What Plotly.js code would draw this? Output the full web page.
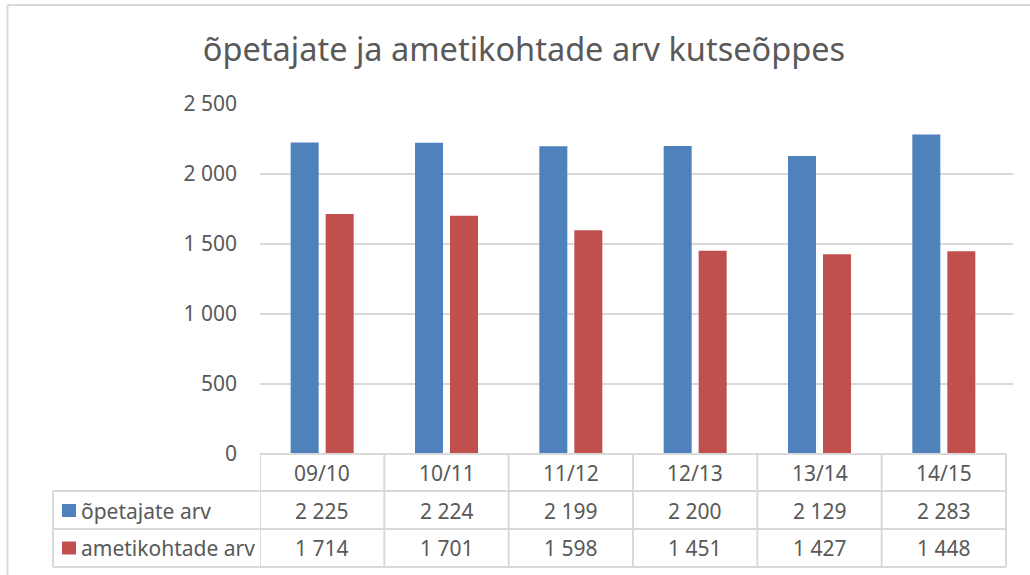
<!DOCTYPE html>
<html>
<head>
<meta charset="utf-8">
<script src="https://cdn.plot.ly/plotly-3.0.1.min.js"></script>
<style>
html,body{margin:0;padding:0;background:#fff;}
#chart{width:1030px;height:575px;}
</style>
</head>
<body>
<div id="chart"></div>
<script>
// ---- data ----
var categories = ["09/10", "10/11", "11/12", "12/13", "13/14", "14/15"];
var seriesNames = ["õpetajate arv", "ametikohtade arv"];
var opetajateArv = [2225, 2224, 2199, 2200, 2129, 2283];
var ametikohtadeArv = [1714, 1701, 1598, 1451, 1427, 1448];
var yTickValues = [0, 500, 1000, 1500, 2000, 2500];
var chartTitle = "õpetajate ja ametikohtade arv kutseõppes";

// ---- styling / layout constants ----
var W = 1030, H = 575;
var L = 260, R = 17, T = 104, B = 121;
var plotW = W - L - R, plotH = H - T - B;
var colors = ["#4F81BD", "#C0504D"];
var grey = "#595959";
var lineCol = "#D9D9D9";
var FONT = "Noto Sans, Open Sans, sans-serif";

function px2x(px) { return (px - L) / plotW; }
function px2y(py) { return (H - B - py) / plotH; }
function fmt(v) { return String(v).replace(/\B(?=(\d{3})+(?!\d))/g, " "); }

var seriesValues = [opetajateArv, ametikohtadeArv];
var traces = seriesValues.map(function (vals, i) {
  return {
    type: "bar",
    name: seriesNames[i],
    x: categories,
    y: vals,
    marker: { color: colors[i] },
    hoverinfo: "x+y+name"
  };
});

// table geometry (pixels)
var rowLines = [491, 529, 567];
var rowCenters = [473, 510.5, 548];
var labelLeft = 53;

var shapes = [];
var annotations = [];

// outer chart border (left + top)
shapes.push({ type: "line", xref: "paper", yref: "paper",
  x0: px2x(7.5), x1: px2x(1035), y0: px2y(5), y1: px2y(5),
  line: { color: lineCol, width: 2 } });
shapes.push({ type: "line", xref: "paper", yref: "paper",
  x0: px2x(7.5), x1: px2x(7.5), y0: px2y(5), y1: px2y(580),
  line: { color: lineCol, width: 2 } });

// table horizontal lines
var lastEdge = categories.length - 0.5;
rowLines.forEach(function (py) {
  shapes.push({ type: "line", xref: "paper", yref: "paper",
    x0: px2x(labelLeft), x1: px2x(L), y0: px2y(py), y1: px2y(py),
    line: { color: lineCol, width: 2 } });
  shapes.push({ type: "line", xref: "x", yref: "paper",
    x0: -0.5, x1: lastEdge, y0: px2y(py), y1: px2y(py),
    line: { color: lineCol, width: 2 } });
});
// zero line part of table top
shapes.push({ type: "line", xref: "x", yref: "paper",
  x0: -0.5, x1: lastEdge, y0: 0, y1: 0,
  line: { color: lineCol, width: 2 } });
// vertical lines
for (var k = 0; k <= categories.length; k++) {
  shapes.push({ type: "line", xref: "x", yref: "paper",
    x0: k - 0.5, x1: k - 0.5, y0: 0, y1: px2y(rowLines[2]),
    line: { color: lineCol, width: 2 } });
}
shapes.push({ type: "line", xref: "paper", yref: "paper",
  x0: px2x(labelLeft), x1: px2x(labelLeft), y0: px2y(rowLines[0]), y1: px2y(rowLines[2]),
  line: { color: lineCol, width: 2 } });

// header row: category labels
categories.forEach(function (c) {
  annotations.push({ xref: "x", yref: "paper", x: c, y: px2y(rowCenters[0]),
    text: c, showarrow: false, xanchor: "center", yanchor: "middle",
    font: { family: FONT, size: 21, color: grey } });
});
// data rows
seriesValues.forEach(function (vals, s) {
  vals.forEach(function (v, i) {
    annotations.push({ xref: "x", yref: "paper", x: categories[i], y: px2y(rowCenters[s + 1]),
      text: fmt(v), showarrow: false, xanchor: "center", yanchor: "middle",
      font: { family: FONT, size: 21, color: grey } });
  });
  // legend key square
  shapes.push({ type: "rect", xref: "paper", yref: "paper",
    x0: px2x(62), x1: px2x(76), y0: px2y(rowCenters[s + 1] - 6.5), y1: px2y(rowCenters[s + 1] + 6.5),
    fillcolor: colors[s], line: { width: 0 } });
  annotations.push({ xref: "paper", yref: "paper", x: px2x(79), y: px2y(rowCenters[s + 1]),
    text: seriesNames[s], showarrow: false, xanchor: "left", yanchor: "middle",
    font: { family: FONT, size: 21, color: grey } });
});

var layout = {
  width: W, height: H,
  margin: { l: L, r: R, t: T, b: B, pad: 0 },
  paper_bgcolor: "#fff", plot_bgcolor: "#fff",
  separators: ", ",
  showlegend: false,
  barmode: "group",
  bargap: 0.437,
  bargroupgap: 0.2,
  title: {
    text: chartTitle,
    xref: "container", yref: "container",
    x: 524 / W, y: 1 - 50 / H, xanchor: "center", yanchor: "middle",
    font: { family: FONT, size: 32.5, color: grey }
  },
  xaxis: {
    type: "category",
    range: [-0.5, categories.length - 0.5 + 7 / 124.3],
    showticklabels: false, showgrid: false, zeroline: false,
    showline: false, ticks: ""
  },
  yaxis: {
    range: [0, 2500],
    tickvals: yTickValues,
    ticktext: yTickValues.map(fmt),
    showgrid: true, gridcolor: lineCol, gridwidth: 2,
    zeroline: false, showline: false, ticks: "",
    ticklabelstandoff: 22,
    tickfont: { family: FONT, size: 21, color: grey }
  },
  shapes: shapes,
  annotations: annotations
};

Plotly.newPlot("chart", traces, layout, { displayModeBar: false });
</script>
</body>
</html>
